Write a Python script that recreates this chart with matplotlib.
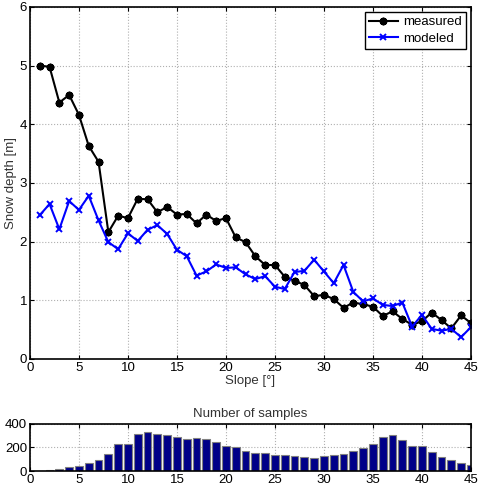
import matplotlib
matplotlib.use('Agg')
import matplotlib.pyplot as plt
import numpy as np

slope = np.arange(1, 46)

measured = [5.00, 4.98, 4.37, 4.50, 4.16, 3.63, 3.36, 2.16, 2.44, 2.40,
            2.73, 2.72, 2.50, 2.59, 2.46, 2.47, 2.31, 2.46, 2.35, 2.40,
            2.07, 1.99, 1.75, 1.60, 1.60, 1.40, 1.33, 1.26, 1.07, 1.09,
            1.02, 0.87, 0.96, 0.93, 0.89, 0.73, 0.81, 0.68, 0.58, 0.64,
            0.79, 0.66, 0.52, 0.74, 0.61]

modeled = [2.45, 2.64, 2.21, 2.69, 2.54, 2.78, 2.36, 1.99, 1.87, 2.14,
           2.01, 2.20, 2.28, 2.13, 1.86, 1.75, 1.42, 1.49, 1.61, 1.55,
           1.56, 1.44, 1.36, 1.41, 1.23, 1.19, 1.48, 1.50, 1.69, 1.49,
           1.29, 1.60, 1.14, 0.98, 1.03, 0.92, 0.90, 0.96, 0.55, 0.75,
           0.51, 0.48, 0.51, 0.37, 0.54]

n_samples = [5, 10, 20, 31, 40, 70, 90, 141, 226, 226,
             310, 327, 313, 302, 290, 268, 279, 268, 248, 211,
             203, 168, 152, 152, 138, 133, 130, 116, 113, 124,
             135, 146, 172, 195, 226, 288, 302, 265, 209, 209,
             158, 116, 90, 70, 51]

plt.rcParams['font.family'] = ['Liberation Sans', 'DejaVu Sans']
plt.rcParams['font.size'] = 9.5

fig = plt.figure(figsize=(4.83, 4.97), dpi=100)
ax = fig.add_axes([0.062, 0.278, 0.913, 0.708])
ax2 = fig.add_axes([0.062, 0.052, 0.913, 0.0955])

ax.plot(slope, measured, '-', color='black', lw=1.5, marker=(8, 2, 0),
        ms=5.5, mew=1.4, label='measured')
ax.plot(slope, modeled, '-', color='blue', lw=1.5, marker='x',
        ms=5, mew=1.4, label='modeled')
ax.set_xlim(0, 45)
ax.set_ylim(0, 6)
ax.set_xticks(range(0, 46, 5))
ax.set_yticks(range(0, 7))
ax.set_xlabel('Slope [°]', labelpad=1, color='#333333')
ax.set_ylabel('Snow depth [m]', labelpad=2, color='#333333')
ax.grid(True, linestyle=':', color='#b0b0b0', lw=0.8)
leg = ax.legend(loc='upper right', fancybox=False, edgecolor='black',
                framealpha=1, handlelength=2.2, borderpad=0.3,
                labelspacing=0.3, handletextpad=0.4, borderaxespad=0.4)
leg.get_frame().set_linewidth(1.0)

ax2.bar(slope, n_samples, width=0.8, color='#000088', edgecolor='#808080', lw=0.8)
ax2.set_xlim(0, 45)
ax2.set_ylim(0, 400)
ax2.set_xticks(range(0, 46, 5))
ax2.set_yticks([0, 200, 400])
ax2.set_title('Number of samples', fontsize=9.5, color='#333333', pad=5)
ax2.grid(True, linestyle=':', color='#b0b0b0', lw=0.8)
ax2.set_axisbelow(True)

for a in (ax, ax2):
    a.tick_params(direction='in', top=True, right=True, length=3, pad=2)
    for s in a.spines.values():
        s.set_linewidth(1.2)

fig.savefig('out.png', dpi=100)
